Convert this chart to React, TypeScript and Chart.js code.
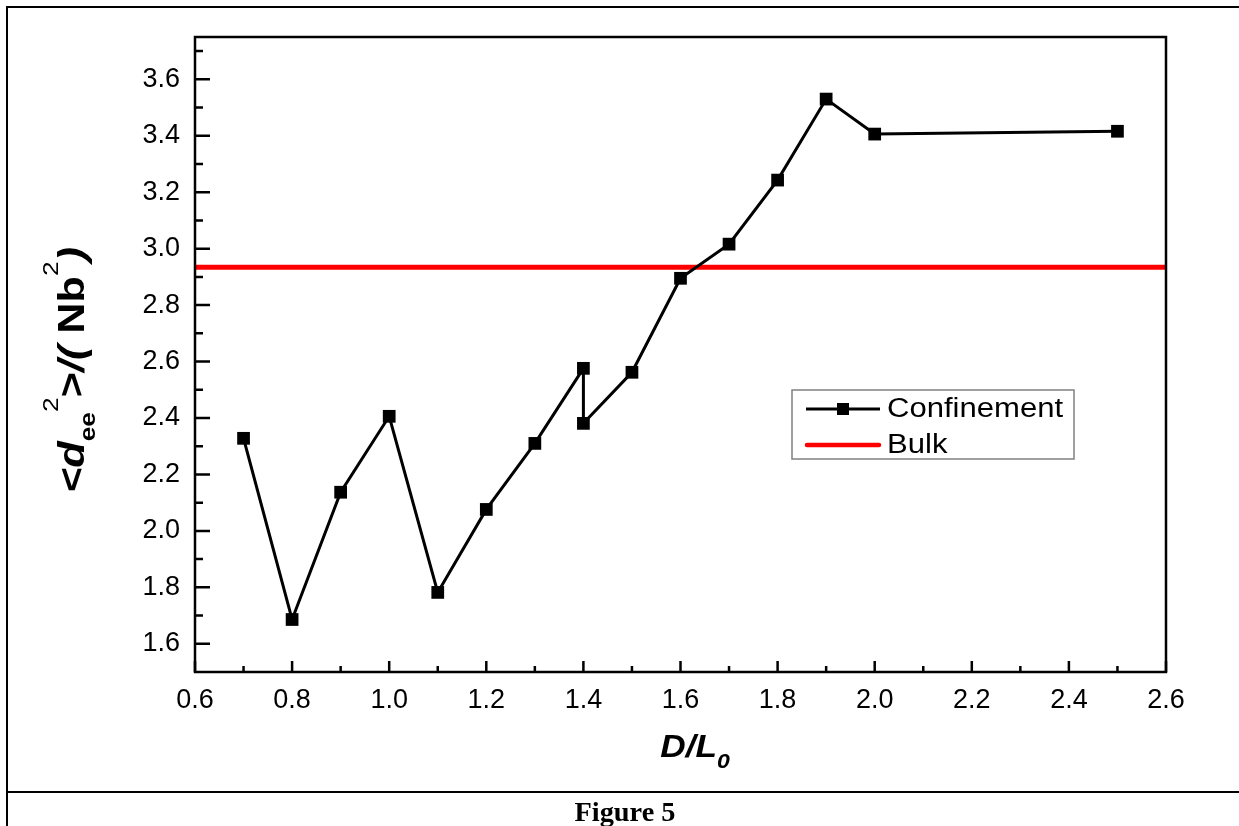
import React, { useEffect, useRef } from "react";
import { Chart, registerables } from "chart.js";
Chart.register(...registerables);

const confinementX = [0.7, 0.8, 0.9, 1.0, 1.1, 1.2, 1.3, 1.4, 1.4, 1.5, 1.6, 1.7, 1.8, 1.9, 2.0, 2.5];
const confinementY = [2.328, 1.686, 2.137, 2.406, 1.782, 2.076, 2.31, 2.576, 2.381, 2.562, 2.895, 3.016, 3.243, 3.53, 3.406, 3.416];
const bulkX = [0.6, 2.6];
const bulkY = [2.934, 2.934];
const xTicks = [0.6, 0.8, 1.0, 1.2, 1.4, 1.6, 1.8, 2.0, 2.2, 2.4, 2.6];
const xMinorTicks = [0.7, 0.9, 1.1, 1.3, 1.5, 1.7, 1.9, 2.1, 2.3, 2.5];
const yTicks = [1.6, 1.8, 2.0, 2.2, 2.4, 2.6, 2.8, 3.0, 3.2, 3.4, 3.6];
const yMinorTicks = [1.7, 1.9, 2.1, 2.3, 2.5, 2.7, 2.9, 3.1, 3.3, 3.5, 3.7];
const seriesNames = ["Confinement", "Bulk"];
const xTitle = "D/L";
const xTitleSub = "0";
const figureCaption = "Figure 5";

const SANS = "'Liberation Sans', Arial, sans-serif";
const SERIF = "'Liberation Serif', 'Times New Roman', serif";

type Seg = { t: string; font: string; dy: number };

function drawRich(ctx: CanvasRenderingContext2D, segs: Seg[], sx: number) {
  let total = 0;
  for (const s of segs) {
    ctx.font = s.font;
    total += ctx.measureText(s.t).width;
  }
  ctx.save();
  ctx.scale(sx, 1);
  let x = -total / 2;
  ctx.textBaseline = "alphabetic";
  ctx.textAlign = "left";
  for (const s of segs) {
    ctx.font = s.font;
    ctx.fillText(s.t, x, s.dy);
    x += ctx.measureText(s.t).width;
  }
  ctx.restore();
}

const decorPlugin = {
  id: "decor",
  afterDraw(chart: any) {
    const ctx: CanvasRenderingContext2D = chart.ctx;
    const { left, right, top, bottom } = chart.chartArea;
    const xs = chart.scales.x;
    const ys = chart.scales.y;
    ctx.save();
    ctx.strokeStyle = "#000";
    ctx.fillStyle = "#000";
    // axes box
    ctx.lineWidth = 2.5;
    ctx.strokeRect(left, top, right - left, bottom - top);
    // ticks (inward)
    ctx.lineWidth = 2.5;
    ctx.beginPath();
    for (const v of xTicks) {
      const p = xs.getPixelForValue(v);
      ctx.moveTo(p, bottom);
      ctx.lineTo(p, bottom - 11);
    }
    for (const v of xMinorTicks) {
      const p = xs.getPixelForValue(v);
      ctx.moveTo(p, bottom);
      ctx.lineTo(p, bottom - 6);
    }
    for (const v of yTicks) {
      const p = ys.getPixelForValue(v);
      ctx.moveTo(left, p);
      ctx.lineTo(left + 15, p);
    }
    for (const v of yMinorTicks) {
      const p = ys.getPixelForValue(v);
      ctx.moveTo(left, p);
      ctx.lineTo(left + 8, p);
    }
    ctx.stroke();

    // legend
    const lx = 792, ly = 390, lw = 282, lh = 69;
    ctx.fillStyle = "#fff";
    ctx.fillRect(lx, ly, lw, lh);
    ctx.strokeStyle = "#808080";
    ctx.lineWidth = 1.5;
    ctx.strokeRect(lx, ly, lw, lh);
    const r1 = 409, r2 = 445;
    ctx.strokeStyle = "#000";
    ctx.lineWidth = 3;
    ctx.beginPath();
    ctx.moveTo(806, r1);
    ctx.lineTo(880, r1);
    ctx.stroke();
    ctx.fillStyle = "#000";
    ctx.fillRect(843 - 6, r1 - 6, 12, 12);
    ctx.strokeStyle = "#ff0000";
    ctx.lineWidth = 4.5;
    ctx.lineCap = "round";
    ctx.beginPath();
    ctx.moveTo(807, r2);
    ctx.lineTo(879, r2);
    ctx.stroke();
    ctx.lineCap = "butt";
    ctx.fillStyle = "#000";
    ctx.textBaseline = "middle";
    ctx.textAlign = "left";
    ctx.font = `27px ${SANS}`;
    ctx.save();
    ctx.translate(887, r1);
    ctx.scale(1.15, 1);
    ctx.fillText(seriesNames[0], 0, 1);
    ctx.restore();
    ctx.save();
    ctx.translate(887, r2);
    ctx.scale(1.15, 1);
    ctx.fillText(seriesNames[1], 0, 1);
    ctx.restore();

    // x title
    ctx.fillStyle = "#000";
    ctx.save();
    ctx.translate(695, 757);
    drawRich(
      ctx,
      [
        { t: xTitle, font: `italic bold 32px ${SANS}`, dy: 0 },
        { t: xTitleSub, font: `italic bold 21px ${SANS}`, dy: 11 },
      ],
      1.1
    );
    ctx.restore();

    // y title
    ctx.save();
    ctx.translate(84, 370);
    ctx.rotate(-Math.PI / 2);
    const B = `bold 36px ${SANS}`;
    const BI = `italic bold 36px ${SANS}`;
    const S = `22px ${SANS}`;
    const SB = `bold 22px ${SANS}`;
    drawRich(
      ctx,
      [
        { t: "<", font: BI, dy: 0 },
        { t: "d", font: BI, dy: 0 },
        { t: "ee", font: SB, dy: 11 },
        { t: "2", font: S, dy: -26 },
        { t: ">", font: B, dy: 0 },
        { t: "/(", font: BI, dy: 0 },
        { t: " Nb", font: B, dy: 0 },
        { t: "2", font: S, dy: -26 },
        { t: ")", font: BI, dy: 0 },
      ],
      1.2
    );
    ctx.restore();

    // page frame
    ctx.strokeStyle = "#000";
    ctx.lineWidth = 2;
    ctx.beginPath();
    ctx.moveTo(7, 826);
    ctx.lineTo(7, 7);
    ctx.lineTo(1239, 7);
    ctx.moveTo(7, 792);
    ctx.lineTo(1239, 792);
    ctx.stroke();

    // caption
    ctx.fillStyle = "#000";
    ctx.save();
    ctx.translate(625, 821);
    drawRich(ctx, [{ t: figureCaption, font: `bold 27px ${SERIF}`, dy: 0 }], 1.05);
    ctx.restore();

    ctx.restore();
  },
};

export default function App() {
  const ref = useRef<HTMLCanvasElement | null>(null);
  useEffect(() => {
    if (!ref.current) return;
    const chart = new Chart(ref.current, {
      type: "line",
      data: {
        datasets: [
          {
            label: seriesNames[0],
            data: confinementX.map((x, i) => ({ x, y: confinementY[i] })),
            borderColor: "#000",
            backgroundColor: "#000",
            borderWidth: 3,
            pointStyle: "rect",
            pointRadius: 9,
            pointBorderWidth: 0,
            pointBackgroundColor: "#000",
            tension: 0,
          },
          {
            label: seriesNames[1],
            data: bulkX.map((x, i) => ({ x, y: bulkY[i] })),
            borderColor: "#ff0000",
            borderWidth: 5,
            pointRadius: 0,
            tension: 0,
          },
        ],
      },
      options: {
        animation: false,
        responsive: true,
        maintainAspectRatio: false,
        layout: { padding: { top: 37, right: 73, left: 0, bottom: 0 } },
        plugins: { legend: { display: false }, tooltip: { enabled: false } },
        scales: {
          x: {
            type: "linear",
            min: 0.6,
            max: 2.6,
            grid: { display: false, drawTicks: false },
            border: { display: false },
            afterBuildTicks: (s: any) => {
              s.ticks = xTicks.map((v) => ({ value: v }));
            },
            afterFit: (s: any) => {
              s.height = 154;
            },
            ticks: {
              color: "#000",
              padding: 12,
              maxRotation: 0,
              autoSkip: false,
              font: { family: SANS, size: 27 },
              callback: (v: any) => Number(v).toFixed(1),
            },
          },
          y: {
            type: "linear",
            min: 1.5,
            max: 3.75,
            grid: { display: false, drawTicks: false },
            border: { display: false },
            afterBuildTicks: (s: any) => {
              s.ticks = yTicks.map((v) => ({ value: v }));
            },
            afterFit: (s: any) => {
              s.width = 195;
            },
            ticks: {
              color: "#000",
              padding: 15,
              autoSkip: false,
              font: { family: SANS, size: 27 },
              callback: (v: any) => Number(v).toFixed(1),
            },
          },
        },
      },
      plugins: [decorPlugin],
    });
    return () => chart.destroy();
  }, []);
  return (
    <div style={{ position: "fixed", left: 0, top: 0, width: 1239, height: 826, background: "#fff" }}>
      <canvas ref={ref} />
    </div>
  );
}
